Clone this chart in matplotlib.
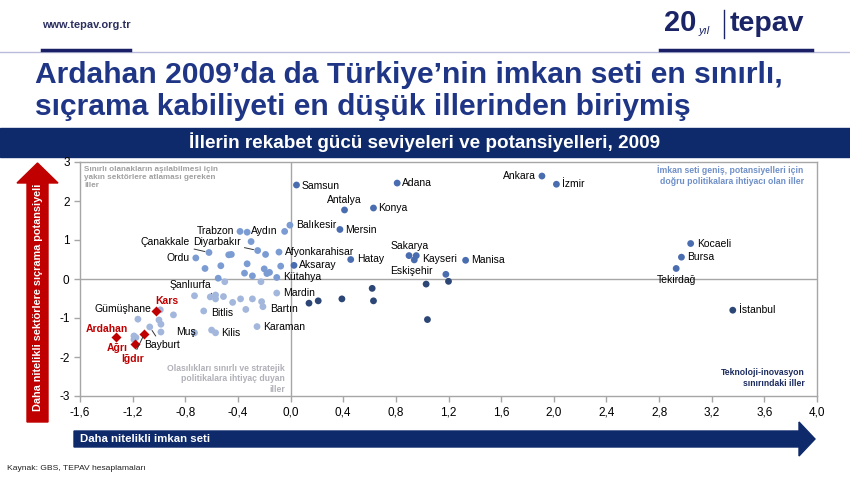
import matplotlib
matplotlib.use("Agg")
import matplotlib.pyplot as plt
from matplotlib import font_manager
from matplotlib.patches import Polygon, Rectangle
from matplotlib.lines import Line2D

# ---------------- data ----------------
cities = ["Samsun", "Adana", "Antalya", "Konya", "Mersin", "Aksaray", "Hatay", "Sakarya", "", "Kayseri",
          "Manisa", "Eskişehir", "Ankara", "İzmir", "Kocaeli", "Bursa", "Tekirdağ",
          "", "", "", "", "", "", "", "", "İstanbul",
          "Balıkesir", "Aydın", "Trabzon", "", "Çanakkale", "Diyarbakır", "Ordu",
          "", "", "", "", "", "", "", "", "", "", "", "", "", "Afyonkarahisar", "", "Kütahya",
          "", "", "Mardin", "Şanlıurfa", "", "", "", "", "", "", "", "", "Bartın", "", "Bitlis",
          "Karaman", "Kilis", "", "", "Muş", "", "", "", "", "Gümüşhane", "Bayburt", "", "", ""]
x_vals = [0.045, 0.81, 0.41, 0.63, 0.375, 0.026, 0.457, 0.90, 0.955, 0.94,
          1.33, 1.18, 1.91, 2.02, 3.04, 2.97, 2.93,
          1.03, 1.20, 0.62, 0.63, 0.39, 0.21, 0.14, 1.04, 3.36,
          -0.005, -0.045, -0.384, -0.33, -0.62, -0.25, -0.72,
          -0.47, -0.45, -0.30, -0.19, -0.65, -0.53, -0.33, -0.20, -0.18, -0.16, -0.35, -0.29, -0.55, -0.088, -0.075, -0.105,
          -0.50, -0.225, -0.105, -0.57, -0.73, -0.61, -0.57, -0.51, -0.44, -0.38, -0.34, -0.29, -0.21, -0.22, -0.66,
          -0.255, -0.57, -0.60, -0.73, -0.985, -0.89, -0.99, -1.00, -0.985, -1.16, -1.07, -1.19, -1.175, -1.19]
y_vals = [2.41, 2.46, 1.77, 1.82, 1.27, 0.35, 0.50, 0.60, 0.60, 0.49,
          0.48, 0.12, 2.64, 2.43, 0.91, 0.56, 0.27,
          -0.13, -0.06, -0.24, -0.56, -0.51, -0.56, -0.62, -1.04, -0.80,
          1.38, 1.22, 1.22, 1.20, 0.68, 0.73, 0.54,
          0.62, 0.63, 0.96, 0.63, 0.27, 0.34, 0.39, 0.26, 0.14, 0.17, 0.15, 0.08, 0.02, 0.69, 0.33, 0.04,
          -0.07, -0.07, -0.36, -0.41, -0.43, -0.46, -0.51, -0.45, -0.60, -0.51, -0.78, -0.51, -0.71, -0.58, -0.82,
          -1.22, -1.38, -1.31, -1.38, -1.36, -0.92, -0.79, -1.05, -1.16, -1.03, -1.23, -1.46, -1.50, -1.55]

focus_cities = ["Kars", "Ardahan", "Ağrı", "Iğdır"]
focus_x = [-1.02, -1.33, -1.185, -1.11]
focus_y = [-0.81, -1.49, -1.67, -1.40]

x_ticks = [-1.6, -1.2, -0.8, -0.4, 0.0, 0.4, 0.8, 1.2, 1.6, 2.0, 2.4, 2.8, 3.2, 3.6, 4.0]
x_tick_labels = ["-1,6", "-1,2", "-0,8", "-0,4", "0,0", "0,4", "0,8", "1,2", "1,6", "2,0",
                 "2,4", "2,8", "3,2", "3,6", "4,0"]
y_ticks = [-3, -2, -1, 0, 1, 2, 3]
y_tick_labels = ["-3", "-2", "-1", "0", "1", "2", "3"]

# label offsets in pixels (dx, dy, ha, leader)
label_pos = {
    "Samsun": (5, -1, "left", False), "Adana": (5, 0, "left", False), "Antalya": (0, 10, "center", False),
    "Konya": (5, 0, "left", False), "Mersin": (5, -1, "left", False), "Aksaray": (5, 0, "left", False),
    "Hatay": (6, 0, "left", False), "Sakarya": (1, 10, "center", False), "Kayseri": (8, 1, "left", False),
    "Manisa": (6, 0, "left", False), "Eskişehir": (-13, 3, "right", False), "Ankara": (-6, 0, "right", False),
    "İzmir": (6, 0, "left", False), "Kocaeli": (6, 0, "left", False), "Bursa": (6, 0, "left", False),
    "Tekirdağ": (0, -12, "center", False), "İstanbul": (6, 0, "left", False),
    "Balıkesir": (6, 0, "left", False), "Aydın": (-7, 0, "right", False), "Trabzon": (-6, 0, "right", False),
    "Çanakkale": (-19, 10, "right", True), "Diyarbakır": (-65, 9, "left", True), "Ordu": (-6, 0, "right", False),
    "Afyonkarahisar": (6, 0, "left", False), "Kütahya": (6, 0, "left", False), "Mardin": (6, 0, "left", False),
    "Şanlıurfa": (-25, 10, "center", True), "Bartın": (7, -2, "left", False), "Bitlis": (7, -2, "left", False),
    "Karaman": (6, 0, "left", False), "Kilis": (6, 0, "left", False), "Muş": (15, 0, "left", False),
    "Gümüşhane": (13, 10, "right", False), "Bayburt": (-6, -18, "left", True),
    "Kars": (10, 10, "center", False), "Ardahan": (-9, 8, "center", False),
    "Ağrı": (-17, -4, "center", False), "Iğdır": (-12, -25, "center", True),
}

# ---------------- fonts ----------------
avail = {f.name for f in font_manager.fontManager.ttflist}
NARROW = "Liberation Sans Narrow" if "Liberation Sans Narrow" in avail else "Liberation Sans"
SANS = "Liberation Sans"
plt.rcParams["font.family"] = [SANS, "DejaVu Sans"]

NAVY = "#0E2A6B"
TITLE = "#1F3585"
RED = "#C00000"
GRAY = "#A6A6A6"

W, H = 850, 479
fig = plt.figure(figsize=(W / 100, H / 100), dpi=100)

def fx(px):
    return px / W

def fy(py):
    return 1 - py / H

# ---------------- header ----------------
fig.text(fx(42), fy(25), "www.tepav.org.tr", fontsize=7.9, fontweight="bold", color="#2B2F5E",
         va="center", ha="left")
fig.add_artist(Line2D([0, 1], [fy(52), fy(52)], color="#B8BCD8", lw=1.0))
fig.add_artist(Line2D([fx(42), fx(130)], [fy(50), fy(50)], color="#1A1F66", lw=2.5))
fig.add_artist(Line2D([fx(660), fx(812)], [fy(50), fy(50)], color="#1A1F66", lw=2.5))
fig.text(fx(664), fy(23), "20", fontsize=21, fontweight="bold", color="#1A2466", va="center", ha="left")
fig.text(fx(699), fy(31), "yıl", fontsize=8, style="italic", color="#1A2466", va="center", ha="left")
fig.add_artist(Line2D([fx(724), fx(724)], [fy(10), fy(38)], color="#1A2466", lw=1.0))
fig.text(fx(730), fy(24), "tepav", fontsize=20.5, fontweight="bold", color="#1A2466", va="center", ha="left")

fig.text(fx(35), fy(75), "Ardahan 2009’da da Türkiye’nin imkan seti en sınırlı,", fontsize=21.6,
         fontweight="bold", color=TITLE, va="center", ha="left", family=[NARROW, "DejaVu Sans"])
fig.text(fx(35), fy(107), "sıçrama kabiliyeti en düşük illerinden biriymiş", fontsize=21.6,
         fontweight="bold", color=TITLE, va="center", ha="left", family=[NARROW, "DejaVu Sans"])

fig.add_artist(Rectangle((0, fy(157)), 1, fy(128) - fy(157), transform=fig.transFigure,
                         color=NAVY, zorder=0))
fig.text(0.5, fy(142), "İllerin rekabet gücü seviyeleri ve potansiyelleri, 2009", fontsize=13.6,
         fontweight="bold", color="white", va="center", ha="center")

# ---------------- arrows ----------------
red_arrow = [(27, 422), (48, 422), (48, 183), (58, 183), (37.5, 163), (17, 183), (27, 183)]
fig.add_artist(Polygon([(fx(a), fy(b)) for a, b in red_arrow], closed=True, transform=fig.transFigure,
                       color=RED, zorder=1))
fig.text(fx(38), fy(297), "Daha nitelikli sektörlere sıçrama potansiyeli", rotation=90, fontsize=7.8,
         fontweight="bold", color="white", va="center", ha="center")

navy_arrow = [(74, 431), (799, 431), (799, 422), (815, 439), (799, 456), (799, 447), (74, 447)]
fig.add_artist(Polygon([(fx(a), fy(b)) for a, b in navy_arrow], closed=True, transform=fig.transFigure,
                       color=NAVY, zorder=1))
fig.text(fx(80), fy(439), "Daha nitelikli imkan seti", fontsize=8.2, fontweight="bold", color="white",
         va="center", ha="left")

fig.text(fx(7), fy(469), "Kaynak: GBS, TEPAV hesaplamaları", fontsize=6.1, color="#222222",
         va="center", ha="left")

# ---------------- axes ----------------
ax = fig.add_axes([fx(80), fy(396), fx(817) - fx(80), fy(162) - fy(396)])
ax.set_xlim(-1.6, 4.0)
ax.set_ylim(-3, 3)
for s in ax.spines.values():
    s.set_color(GRAY)
    s.set_linewidth(1.0)
ax.axhline(0, color=GRAY, lw=1.0, zorder=1)
ax.axvline(0, color=GRAY, lw=1.0, zorder=1)
ax.set_xticks(x_ticks)
ax.set_xticklabels(x_tick_labels)
ax.set_yticks(y_ticks)
ax.set_yticklabels(y_tick_labels)
ax.tick_params(axis="both", colors=GRAY, labelcolor="black", length=4, width=1, labelsize=8.5)

def colour(x, y):
    if x >= 0 and y >= 0:
        return "#4A6DB0"
    if x >= 0 and y < 0:
        return "#2C4676"
    if x < 0 and y >= 0:
        return "#7B9BD3"
    return "#A3B7DD"

cols = [colour(x, y) for x, y in zip(x_vals, y_vals)]
ax.scatter(x_vals, y_vals, s=24, c=cols, zorder=3, linewidths=0)
ax.scatter(focus_x, focus_y, s=26, marker="D", c=RED, zorder=4, linewidths=0)

def place(name, x, y, color, weight):
    dx, dy, ha, leader = label_pos[name]
    kw = dict(xy=(x, y), xytext=(dx, dy), textcoords="offset pixels", ha=ha, va="center",
              fontsize=7.5, color=color, fontweight=weight, zorder=5)
    if leader:
        kw["arrowprops"] = dict(arrowstyle="-", color="#333333", lw=0.7, shrinkA=1, shrinkB=3)
    ax.annotate(name, **kw)

for name, x, y in zip(cities, x_vals, y_vals):
    if name:
        place(name, x, y, "black", "normal")
for name, x, y in zip(focus_cities, focus_x, focus_y):
    place(name, x, y, RED, "bold")

ax.text(0.006, 0.985, "Sınırlı olanakların aşılabilmesi için\nyakın sektörlere atlaması gereken\niller",
        transform=ax.transAxes, fontsize=5.9, fontweight="bold", color="#A0A0A0", va="top", ha="left",
        linespacing=1.25)
ax.text(0.982, 0.985, "İmkan seti geniş, potansiyelleri için\ndoğru politikalara ihtiyacı olan iller",
        transform=ax.transAxes, fontsize=6.2, fontweight="bold", color="#6E8FC8", va="top", ha="right",
        linespacing=1.25)
ax.text(-0.045, -2.95, "Olasılıkları sınırlı ve stratejik\npolitikalara ihtiyaç duyan\niller",
        fontsize=6.2, fontweight="bold", color="#B0B0B8", va="bottom", ha="right", linespacing=1.25)
ax.text(0.983, 0.077, "Teknoloji-inovasyon\nsınırındaki iller", transform=ax.transAxes, fontsize=6.2,
        fontweight="bold", color="#1A2A5E", va="center", ha="right", linespacing=1.25)

fig.savefig("out.png", dpi=100)
